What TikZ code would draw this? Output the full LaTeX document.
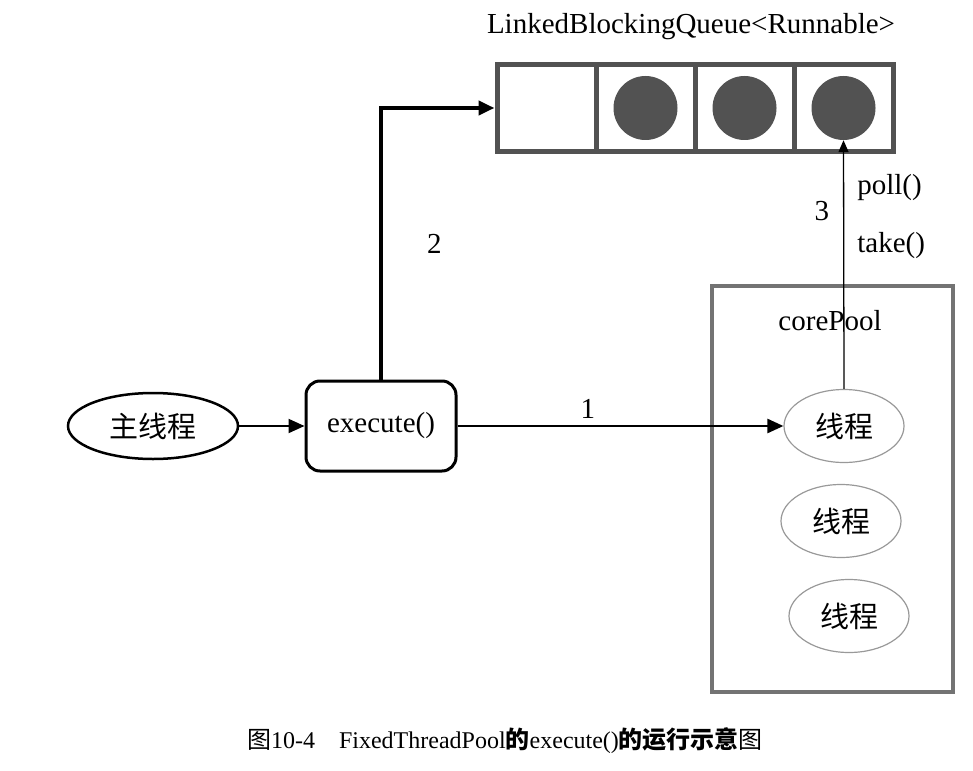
\documentclass[tikz,border=0pt]{standalone}
\usepackage{fontspec}
\setmainfont{Liberation Serif}
\newfontfamily\cjk{Noto Sans CJK SC}
\usetikzlibrary{arrows.meta,positioning,shapes.geometric}

\begin{document}
\begin{tikzpicture}[
            x=1pt, y=-1pt,
            lbl/.style={
              font=\fontsize{29}{34}\selectfont,
              inner sep=0pt
            },
            cell/.style={
              draw=black!68, line width=5pt,
              minimum width=99pt, minimum height=87pt
            },
            dot/.style={
              circle, fill=black!68,
              minimum size=64pt, inner sep=0pt
            },
            thread/.style={
              ellipse, draw=black!40, line width=1.2pt,
              minimum width=120pt, minimum height=73pt,
              font=\cjk\fontsize{29}{34}\selectfont
            },
            link/.style={
              -{Triangle[length=16pt,width=14pt]},
              line width=2.5pt
            }
        ]
    \useasboundingbox (0,0) rectangle (973,770);

    % queue
    \node[lbl] (qname) at (691,27) {LinkedBlockingQueue<Runnable>};
    \foreach \i in {1,...,4}
      \node[cell] (q\i) at ({497+99*(\i-0.5)},108) {};
    \foreach \i in {2,3,4}
      \node[dot] (c\i) at (q\i) {};

    % main thread and execute()
    \node[ellipse, draw, line width=2.5pt, minimum width=170pt,
          minimum height=66pt, inner sep=0pt,
          font=\cjk\fontsize{29}{34}\selectfont] (main) at (153,426) {主线程};
    \node[lbl, draw, rounded corners=14pt, line width=3pt,
          minimum width=150pt, minimum height=90pt] (exec) at (381,426) {execute()};

    % core pool
    \node[draw=black!55, line width=4pt, minimum width=241pt,
          minimum height=406pt] (pool) at (832.5,489) {};
    \node[lbl] (pooltitle) at (830,321) {corePool};
    \foreach \i/\x/\y in {1/844/426, 2/841/521, 3/849/616}
      \node[thread] (t\i) at (\x,\y) {线程};

    % connectors
    \draw[link, line width=2pt] (main.east) -- (exec.west);
    \draw[link, line width=4pt] (exec.north) |- (q1.west)
      node[lbl, pos=0.25, right=44pt] {2};
    \draw[link] (exec.east) -- (t1.west)
      node[lbl, pos=0.4, above=6pt] {1};
    \draw[-{Triangle[length=12pt,width=10pt]}, line width=1.3pt] (t1.north) -- (c4.south)
      node[lbl, pos=0.81, right=13pt] {poll()}
      node[lbl, pos=0.575, right=13pt] {take()}
      node[lbl, pos=0.715, left=14pt] {3};

    % caption
    \node[font=\fontsize{24}{28}\selectfont] (caption) at (505,741)
      {{\cjk 图}10-4\quad FixedThreadPool{\cjk\bfseries 的}execute(){\cjk\bfseries 的运行示意}{\cjk 图}};

    \end{tikzpicture}
\end{document}
